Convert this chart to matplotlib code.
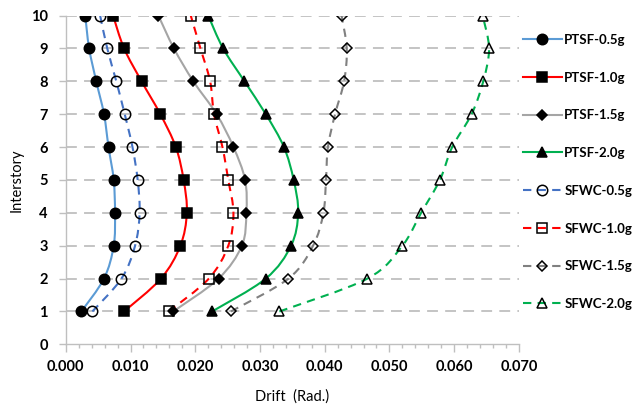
import numpy as np
import matplotlib
matplotlib.use("Agg")
import matplotlib.pyplot as plt
from matplotlib.path import Path
from matplotlib.patches import PathPatch
from matplotlib.lines import Line2D
from matplotlib.ticker import MultipleLocator, FormatStrFormatter

storey = [1, 2, 3, 4, 5, 6, 7, 8, 9, 10]

# drift values, storey 1 -> 10
ptsf_05 = [0.0024, 0.0059, 0.0074, 0.0076, 0.0074, 0.0066, 0.0059, 0.0047, 0.0036, 0.0030]
ptsf_10 = [0.0090, 0.0147, 0.0177, 0.0187, 0.0182, 0.0170, 0.0146, 0.0117, 0.0090, 0.0073]
ptsf_15 = [0.0166, 0.0236, 0.0272, 0.0279, 0.0277, 0.0259, 0.0233, 0.0197, 0.0167, 0.0143]
ptsf_20 = [0.0226, 0.0309, 0.0348, 0.0359, 0.0352, 0.0337, 0.0309, 0.0276, 0.0243, 0.0220]
sfwc_05 = [0.0041, 0.0086, 0.0107, 0.0114, 0.0111, 0.0103, 0.0091, 0.0078, 0.0064, 0.0053]
sfwc_10 = [0.0159, 0.0221, 0.0251, 0.0259, 0.0251, 0.0242, 0.0229, 0.0223, 0.0208, 0.0193]
sfwc_15 = [0.0255, 0.0344, 0.0382, 0.0398, 0.0402, 0.0405, 0.0416, 0.0430, 0.0434, 0.0426]
sfwc_20 = [0.0330, 0.0466, 0.0520, 0.0549, 0.0578, 0.0597, 0.0627, 0.0645, 0.0654, 0.0644]

labels = ["PTSF-0.5g", "PTSF-1.0g", "PTSF-1.5g", "PTSF-2.0g",
          "SFWC-0.5g", "SFWC-1.0g", "SFWC-1.5g", "SFWC-2.0g"]

series = [ptsf_05, ptsf_10, ptsf_15, ptsf_20, sfwc_05, sfwc_10, sfwc_15, sfwc_20]
colors = ["#5B9BD5", "#FF0000", "#A5A5A5", "#00B050",
          "#4472C4", "#FF0000", "#808080", "#00B050"]
markers = ["o", "s", "D", "^", "o", "s", "D", "^"]
msizes = [7.5, 7.5, 5.5, 7, 7.5, 7.5, 5.5, 6.5]
filled = [True, True, True, True, False, False, False, False]

plt.rcParams['font.family'] = ['Lato', 'DejaVu Sans']


def smooth_path(x, y, t=1.0 / 6):
    # excel-like smoothed line: catmull-rom turned into cubic bezier segments
    pts = np.column_stack([x, y])
    n = len(pts)
    verts = [pts[0]]
    codes = [Path.MOVETO]
    for i in range(n - 1):
        p0 = pts[i - 1] if i > 0 else pts[i]
        p1 = pts[i]
        p2 = pts[i + 1]
        p3 = pts[i + 2] if i + 2 < n else pts[i + 1]
        c1 = p1 + (p2 - p0) * t
        c2 = p2 - (p3 - p1) * t
        verts += [c1, c2, p2]
        codes += [Path.CURVE4] * 3
    return Path(verts, codes)


fig = plt.figure(figsize=(6.39, 4.08), dpi=100)
ax = fig.add_axes([0.103, 0.156, 0.709, 0.806])

ax.set_xlim(0, 0.07)
ax.set_ylim(0, 10)

for yv in storey:
    ax.axhline(yv, color="#BFBFBF", lw=1.3, ls=(0, (6, 4)), zorder=0)

handles = []
for i, vals in enumerate(series):
    ls = "-" if i < 4 else (0, (4, 3))
    patch = PathPatch(smooth_path(vals, storey), facecolor="none",
                      edgecolor=colors[i], lw=1.5, ls=ls, zorder=2)
    ax.add_patch(patch)
    fc = "black" if filled[i] else "none"
    ax.plot(vals, storey, ls="none", marker=markers[i], ms=msizes[i],
            mfc=fc, mec="black", mew=1.1, zorder=3)
    handles.append(Line2D([], [], color=colors[i], lw=1.5, ls=ls,
                          marker=markers[i], ms=msizes[i], mfc=fc,
                          mec="black", mew=1.1))

ax.xaxis.set_major_locator(MultipleLocator(0.01))
ax.xaxis.set_minor_locator(MultipleLocator(0.002))
ax.xaxis.set_major_formatter(FormatStrFormatter("%.3f"))
ax.yaxis.set_major_locator(MultipleLocator(1))

for s in ["top", "right"]:
    ax.spines[s].set_visible(False)
for s in ["left", "bottom"]:
    ax.spines[s].set_color("#BFBFBF")
    ax.spines[s].set_linewidth(1.0)

ax.tick_params(axis="x", which="major", length=6, color="#BFBFBF", width=1.0,
               labelsize=10.5, pad=5)
ax.tick_params(axis="x", which="minor", length=3, color="#BFBFBF", width=1.0)
ax.tick_params(axis="y", which="major", length=5, color="#BFBFBF", width=1.0,
               labelsize=10.5, pad=8)
for lab in ax.get_xticklabels() + ax.get_yticklabels():
    lab.set_fontweight("bold")

ax.set_xlabel("Drift  (Rad.)", fontsize=10.5, labelpad=11)
ax.set_ylabel("Interstory", fontsize=10.5, labelpad=5)

leg = fig.legend(handles, labels, loc="upper left", bbox_to_anchor=(0.818, 0.917),
                 frameon=False, fontsize=9.5, labelspacing=1.95, handlelength=3.0,
                 handletextpad=0.15, borderpad=0, borderaxespad=0)
for t in leg.get_texts():
    t.set_fontweight("bold")

fig.savefig("out.png", dpi=100)
